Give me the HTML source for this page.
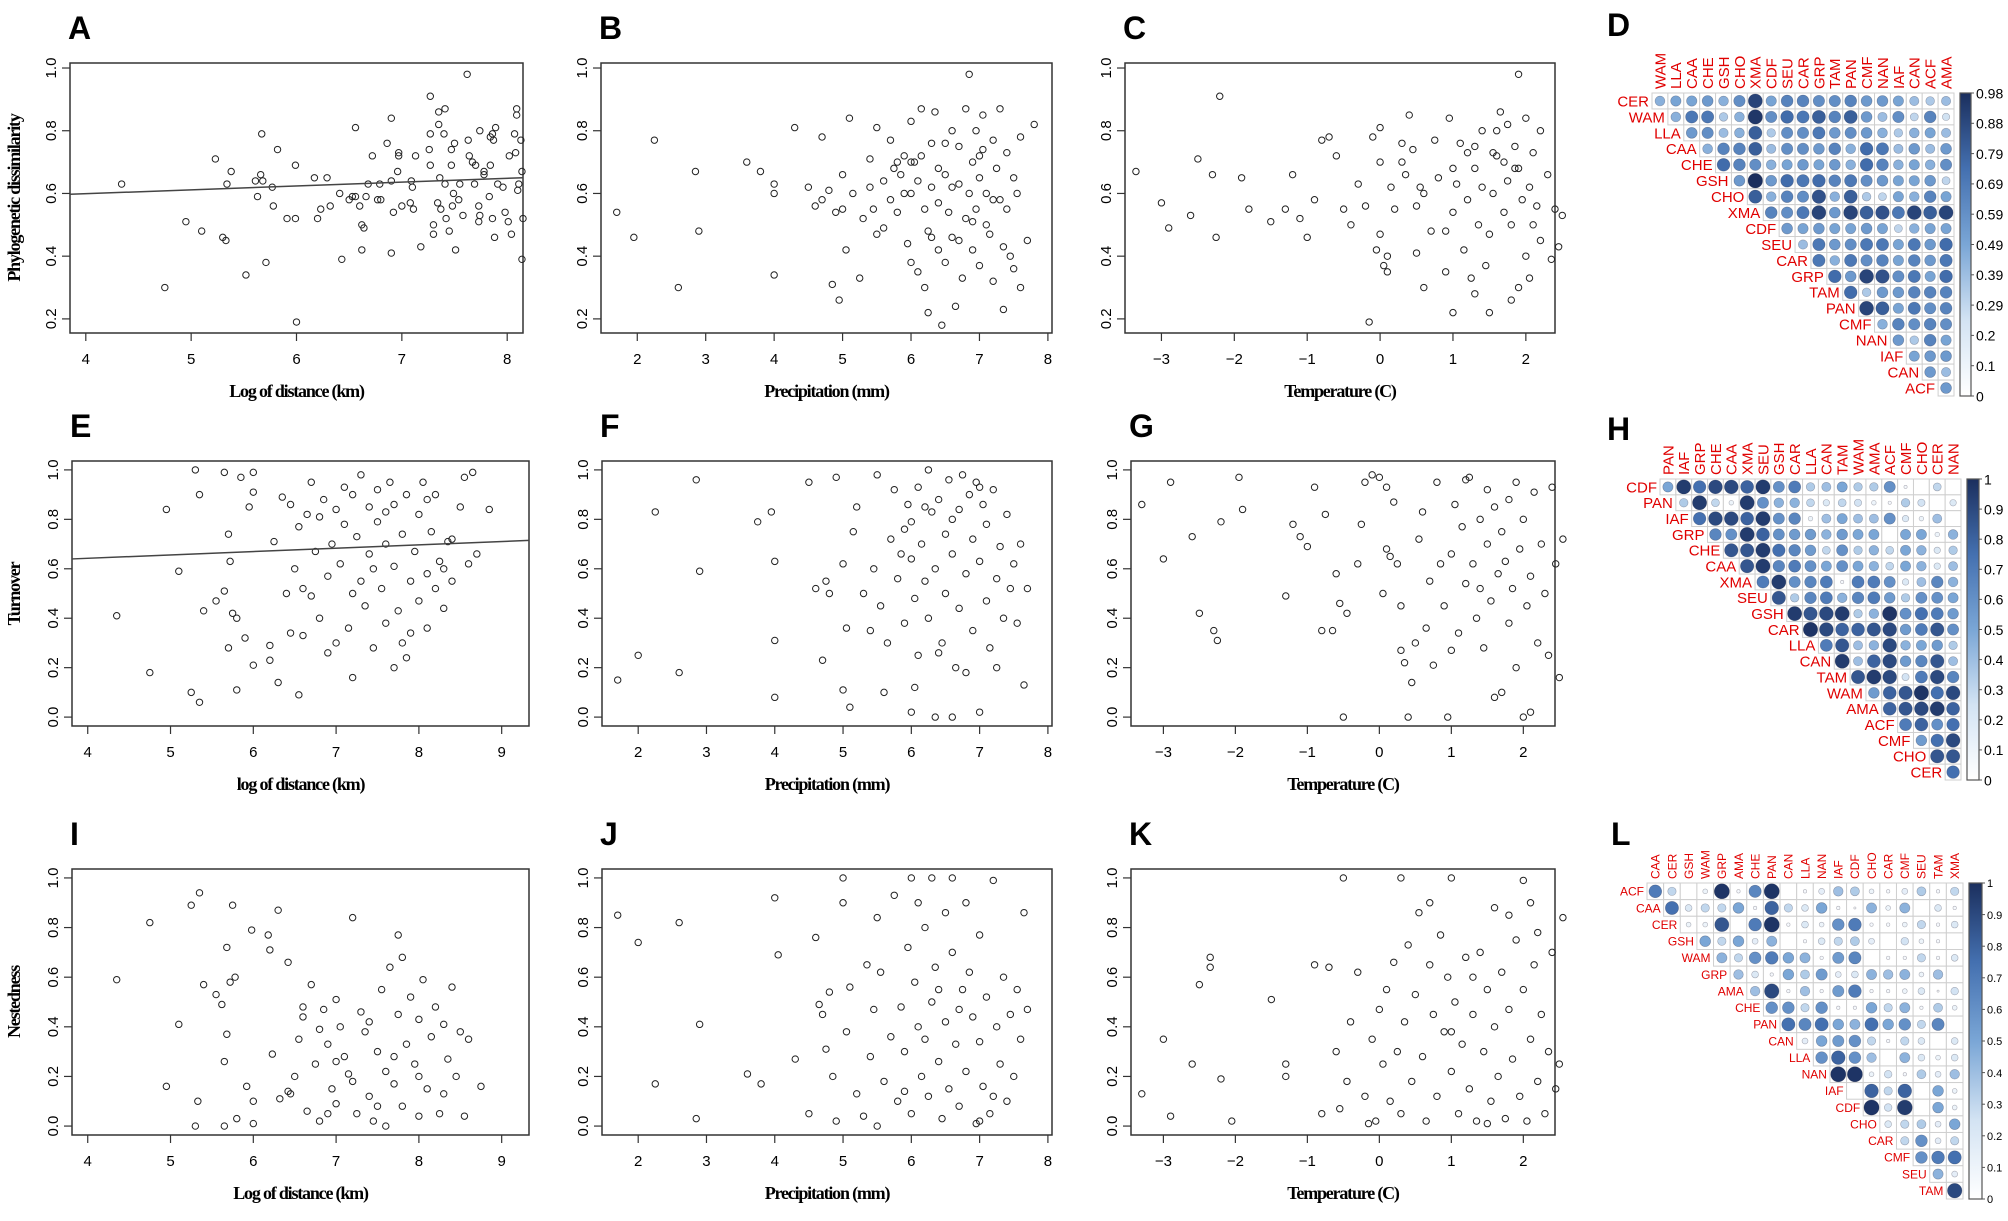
<!DOCTYPE html>
<html><head><meta charset="utf-8"><style>
html,body{margin:0;padding:0;background:#fff;}
svg{display:block;}
</style></head><body>
<svg id="fig" xmlns="http://www.w3.org/2000/svg" width="2008" height="1221" viewBox="0 0 2008 1221">
<defs>
<linearGradient id="cbg" x1="0" y1="1" x2="0" y2="0">
<stop offset="0" stop-color="#ffffff"/><stop offset="0.25" stop-color="#d3e3f3"/><stop offset="0.5" stop-color="#7aa6d6"/><stop offset="0.75" stop-color="#4470b0"/><stop offset="1" stop-color="#1b2f5e"/>
</linearGradient>
</defs>
</svg>
<script>
// ---------- scatter data ----------
const ptsA=[[4.34,.63],[4.75,.30],[4.95,.51],[5.1,.48],[5.23,.71],[5.3,.46],[5.33,.45],[5.34,.63],[5.38,.67],[5.52,.34],[5.61,.64],[5.63,.59],[5.66,.66],[5.67,.79],[5.68,.64],[5.71,.38],[5.77,.62],[5.78,.56],[5.82,.74],[5.91,.52],[5.99,.69],[5.99,.52],[6.0,.19],[6.17,.65],[6.2,.52],[6.23,.55],[6.29,.65],[6.32,.56],[6.41,.60],[6.43,.39],[6.5,.58],[6.53,.59],[6.56,.81],[6.56,.59],[6.6,.56],[6.62,.50],[6.62,.42],[6.64,.49],[6.66,.59],[6.68,.63],[6.72,.72],[6.77,.58],[6.79,.63],[6.8,.58],[6.86,.76],[6.9,.41],[6.9,.84],[6.9,.64],[6.92,.54],[6.96,.67],[6.97,.73],[6.97,.72],[7.0,.56],[7.08,.57],[7.09,.64],[7.1,.62],[7.11,.55],[7.13,.72],[7.18,.43],[7.26,.74],[7.27,.91],[7.27,.69],[7.27,.79],[7.3,.50],[7.3,.47],[7.34,.57],[7.35,.86],[7.35,.82],[7.36,.65],[7.37,.55],[7.4,.79],[7.41,.87],[7.41,.63],[7.42,.52],[7.45,.48],[7.47,.74],[7.47,.69],[7.48,.56],[7.49,.60],[7.5,.76],[7.51,.42],[7.54,.58],[7.55,.63],[7.58,.53],[7.63,.77],[7.62,.98],[7.64,.72],[7.67,.70],[7.7,.69],[7.69,.63],[7.73,.56],[7.73,.51],[7.74,.53],[7.74,.80],[7.78,.66],[7.78,.67],[7.83,.59],[7.84,.69],[7.84,.78],[7.86,.52],[7.86,.79],[7.87,.77],[7.88,.46],[7.89,.81],[7.91,.63],[7.96,.62],[7.98,.54],[8.01,.51],[8.02,.72],[8.04,.47],[8.07,.79],[8.08,.73],[8.09,.87],[8.09,.85],[8.1,.61],[8.11,.63],[8.13,.77],[8.14,.39],[8.14,.67],[8.15,.52]];
const lineA=[0.55,0.0123];
const ptsB=[[1.7,.54],[1.95,.46],[2.25,.77],[2.6,.30],[2.85,.67],[2.9,.48],[3.6,.70],[3.8,.67],[4.0,.63],[4.0,.60],[4.0,.34],[4.3,.81],[4.5,.62],[4.6,.56],[4.7,.58],[4.7,.78],[4.8,.61],[4.85,.31],[4.9,.54],[4.95,.26],[5.0,.66],[5.0,.55],[5.05,.42],[5.1,.84],[5.15,.60],[5.3,.52],[5.4,.71],[5.4,.62],[5.45,.55],[5.5,.81],[5.5,.47],[5.6,.64],[5.6,.49],[5.7,.77],[5.7,.58],[5.75,.68],[5.8,.70],[5.8,.54],[5.85,.66],[5.9,.72],[5.9,.60],[5.95,.44],[6.0,.83],[6.0,.60],[6.0,.38],[6.05,.70],[6.1,.35],[6.1,.64],[6.15,.72],[6.15,.87],[6.2,.55],[6.2,.30],[6.25,.48],[6.25,.22],[6.3,.62],[6.3,.76],[6.35,.86],[6.4,.42],[6.4,.57],[6.45,.18],[6.5,.76],[6.5,.66],[6.5,.38],[6.55,.54],[6.6,.80],[6.6,.46],[6.65,.24],[6.7,.63],[6.7,.75],[6.75,.33],[6.8,.87],[6.8,.52],[6.85,.98],[6.85,.60],[6.9,.70],[6.9,.42],[6.95,.80],[6.95,.55],[7.0,.65],[7.0,.37],[7.05,.74],[7.05,.85],[7.1,.50],[7.1,.60],[7.15,.47],[7.2,.77],[7.2,.32],[7.25,.68],[7.3,.58],[7.3,.87],[7.35,.23],[7.35,.43],[7.4,.73],[7.4,.55],[7.45,.40],[7.5,.65],[7.5,.36],[7.55,.60],[7.6,.78],[7.6,.30],[7.7,.45],[7.8,.82],[5.25,.33],[6.0,.70],[6.4,.68],[6.6,.62],[7.0,.72],[6.3,.46],[6.9,.51],[7.2,.58],[6.7,.45]];
const ptsC=[[-3.35,.67],[-3.0,.57],[-2.9,.49],[-2.6,.53],[-2.5,.71],[-2.3,.66],[-2.2,.91],[-2.25,.46],[-1.9,.65],[-1.8,.55],[-1.5,.51],[-1.3,.55],[-1.2,.66],[-1.1,.52],[-1.0,.46],[-0.9,.58],[-0.8,.77],[-0.7,.78],[-0.6,.72],[-0.5,.55],[-0.4,.50],[-0.3,.63],[-0.2,.56],[-0.15,.19],[-0.1,.78],[0.0,.81],[0.0,.70],[-0.05,.42],[0.0,.47],[0.05,.37],[0.1,.40],[0.1,.35],[0.15,.62],[0.2,.55],[0.3,.70],[0.3,.76],[0.35,.66],[0.4,.85],[0.45,.74],[0.5,.41],[0.5,.56],[0.6,.60],[0.6,.30],[0.7,.48],[0.75,.77],[0.8,.65],[0.9,.35],[0.95,.84],[1.0,.54],[1.0,.22],[1.05,.63],[1.1,.76],[1.15,.42],[1.2,.73],[1.2,.58],[1.25,.33],[1.3,.28],[1.3,.68],[1.35,.50],[1.4,.80],[1.4,.62],[1.45,.37],[1.5,.22],[1.5,.47],[1.55,.60],[1.6,.72],[1.6,.80],[1.65,.86],[1.7,.54],[1.7,.70],[1.75,.64],[1.8,.26],[1.8,.50],[1.85,.68],[1.85,.75],[1.9,.98],[1.9,.30],[1.95,.58],[2.0,.84],[2.0,.40],[2.05,.62],[2.1,.73],[2.1,.50],[2.15,.56],[2.2,.45],[2.2,.80],[2.3,.66],[2.35,.39],[2.4,.55],[2.45,.43],[2.5,.53],[1.75,.82],[1.55,.73],[1.0,.68],[0.55,.62],[1.3,.75],[1.9,.68],[2.05,.33],[0.9,.48]];
const ptsE=[[4.35,.41],[4.75,.18],[4.95,.84],[5.1,.59],[5.25,.1],[5.3,1.0],[5.35,.9],[5.35,.06],[5.4,.43],[5.55,.47],[5.65,.51],[5.65,.99],[5.7,.74],[5.7,.28],[5.72,.63],[5.75,.42],[5.8,.11],[5.8,.40],[5.85,.97],[5.95,.85],[6.0,.91],[6.0,.99],[6.0,.21],[6.2,.23],[6.2,.29],[6.25,.71],[6.3,.14],[6.35,.89],[6.45,.86],[6.45,.34],[6.5,.6],[6.55,.77],[6.6,.52],[6.65,.82],[6.7,.49],[6.7,.95],[6.75,.67],[6.8,.4],[6.85,.88],[6.9,.57],[6.95,.7],[7.0,.84],[7.0,.3],[7.05,.62],[7.1,.78],[7.15,.36],[7.2,.9],[7.2,.16],[7.25,.73],[7.3,.55],[7.3,.98],[7.35,.45],[7.4,.85],[7.4,.66],[7.45,.28],[7.5,.92],[7.5,.79],[7.55,.52],[7.6,.7],[7.6,.38],[7.65,.95],[7.7,.61],[7.7,.86],[7.75,.43],[7.8,.3],[7.8,.74],[7.85,.24],[7.85,.9],[7.9,.55],[7.95,.67],[8.0,.82],[8.0,.47],[8.05,.95],[8.1,.58],[8.1,.36],[8.15,.75],[8.2,.52],[8.2,.9],[8.25,.63],[8.3,.44],[8.35,.71],[8.4,.55],[8.5,.85],[8.55,.97],[8.6,.62],[8.65,.99],[8.7,.66],[8.85,.84],[6.6,.33],[6.9,.26],[7.1,.93],[7.45,.6],[7.6,.83],[7.9,.34],[8.3,.6],[7.2,.5],[6.8,.81],[7.7,.2],[8.4,.72],[8.1,.88],[6.4,.5],[6.55,.09],[5.9,.32]];
const lineE=[0.588,0.0136];
const ptsF=[[1.7,.15],[2.0,.25],[2.25,.83],[2.6,.18],[2.85,.96],[2.9,.59],[3.75,.79],[3.95,.83],[4.0,.63],[4.0,.31],[4.0,.08],[4.5,.95],[4.6,.52],[4.7,.23],[4.75,.55],[4.8,.5],[4.9,.97],[5.0,.11],[5.0,.62],[5.05,.36],[5.1,.04],[5.15,.75],[5.2,.85],[5.3,.5],[5.4,.35],[5.45,.6],[5.5,.98],[5.55,.45],[5.6,.1],[5.65,.3],[5.7,.72],[5.75,.92],[5.8,.56],[5.85,.66],[5.9,.38],[5.95,.86],[6.0,.02],[6.0,.64],[6.0,.79],[6.05,.48],[6.1,.93],[6.1,.25],[6.15,.7],[6.2,.55],[6.25,1.0],[6.25,.4],[6.3,.83],[6.35,.0],[6.35,.6],[6.4,.88],[6.45,.3],[6.5,.74],[6.5,.5],[6.55,.96],[6.6,.0],[6.6,.66],[6.65,.2],[6.7,.84],[6.7,.44],[6.75,.98],[6.8,.58],[6.85,.9],[6.9,.72],[6.9,.35],[6.95,.95],[7.0,.63],[7.0,.02],[7.05,.86],[7.1,.47],[7.1,.78],[7.15,.28],[7.2,.92],[7.25,.56],[7.3,.69],[7.35,.4],[7.4,.82],[7.45,.52],[7.5,.62],[7.55,.38],[7.6,.7],[7.65,.13],[7.7,.52],[6.05,.12],[6.4,.26],[6.8,.18],[7.0,.93],[6.2,.85],[5.9,.76],[6.6,.8],[7.25,.2]];
const ptsG=[[-3.3,.86],[-3.0,.64],[-2.9,.95],[-2.6,.73],[-2.5,.42],[-2.3,.35],[-2.25,.31],[-2.2,.79],[-1.95,.97],[-1.9,.84],[-1.3,.49],[-1.2,.78],[-1.1,.73],[-1.0,.69],[-0.9,.93],[-0.8,.35],[-0.75,.82],[-0.65,.35],[-0.6,.58],[-0.55,.46],[-0.5,.0],[-0.45,.42],[-0.3,.62],[-0.25,.78],[-0.2,.95],[-0.1,.98],[0.0,.97],[0.05,.5],[0.1,.93],[0.1,.68],[0.2,.87],[0.25,.62],[0.3,.45],[0.3,.27],[0.35,.22],[0.4,.0],[0.45,.14],[0.5,.3],[0.55,.72],[0.6,.83],[0.65,.36],[0.7,.55],[0.75,.21],[0.8,.95],[0.85,.62],[0.9,.45],[0.95,.0],[1.0,.66],[1.05,.86],[1.1,.34],[1.15,.77],[1.2,.54],[1.25,.97],[1.3,.62],[1.35,.4],[1.4,.8],[1.45,.28],[1.5,.7],[1.5,.92],[1.55,.47],[1.6,.85],[1.65,.58],[1.7,.1],[1.7,.75],[1.75,.63],[1.8,.88],[1.8,.38],[1.85,.52],[1.9,.95],[1.9,.2],[1.95,.68],[2.0,.0],[2.0,.8],[2.05,.45],[2.1,.57],[2.15,.91],[2.2,.3],[2.25,.7],[2.3,.5],[2.35,.25],[2.4,.93],[2.45,.62],[2.5,.16],[2.55,.72],[1.6,.08],[1.2,.96],[0.15,.65],[2.1,.02],[1.4,.52],[1.0,.27]];
const ptsI=[[4.35,.59],[4.75,.82],[4.95,.16],[5.1,.41],[5.25,.89],[5.3,.0],[5.33,.1],[5.35,.94],[5.4,.57],[5.55,.53],[5.62,.49],[5.65,.0],[5.65,.26],[5.68,.72],[5.68,.37],[5.72,.58],[5.75,.89],[5.78,.6],[5.8,.03],[5.92,.16],[5.98,.79],[6.0,.1],[6.0,.01],[6.18,.77],[6.2,.71],[6.23,.29],[6.3,.87],[6.32,.11],[6.42,.14],[6.42,.66],[6.5,.2],[6.55,.35],[6.6,.44],[6.6,.48],[6.65,.06],[6.7,.57],[6.75,.25],[6.8,.02],[6.85,.47],[6.9,.33],[6.95,.15],[7.0,.51],[7.0,.09],[7.05,.4],[7.1,.28],[7.15,.21],[7.2,.84],[7.25,.05],[7.3,.46],[7.35,.38],[7.4,.12],[7.45,.02],[7.5,.3],[7.55,.55],[7.6,.22],[7.6,.0],[7.65,.64],[7.7,.17],[7.75,.77],[7.75,.45],[7.8,.68],[7.8,.08],[7.85,.33],[7.9,.52],[7.95,.25],[8.0,.04],[8.0,.43],[8.05,.59],[8.1,.15],[8.15,.36],[8.2,.48],[8.25,.05],[8.3,.41],[8.35,.27],[8.4,.56],[8.45,.2],[8.5,.38],[8.55,.04],[8.6,.35],[8.75,.16],[6.45,.13],[7.0,.26],[7.4,.42],[7.7,.28],[8.0,.2],[8.3,.13],[6.8,.39],[7.2,.18],[6.9,.05],[7.5,.08]];
const ptsJ=[[1.7,.85],[2.0,.74],[2.25,.17],[2.6,.82],[2.9,.41],[2.85,.03],[3.6,.21],[3.8,.17],[4.0,.92],[4.05,.69],[4.3,.27],[4.5,.05],[4.6,.76],[4.65,.49],[4.7,.45],[4.75,.31],[4.8,.54],[4.85,.2],[4.9,.02],[5.0,1.0],[5.0,.9],[5.05,.38],[5.1,.56],[5.2,.13],[5.3,.04],[5.35,.65],[5.4,.28],[5.45,.47],[5.5,.0],[5.5,.84],[5.55,.62],[5.6,.18],[5.7,.36],[5.75,.93],[5.8,.1],[5.85,.48],[5.9,.3],[5.95,.72],[6.0,1.0],[6.0,.05],[6.05,.58],[6.1,.4],[6.15,.2],[6.2,.8],[6.25,.12],[6.3,1.0],[6.3,.5],[6.35,.64],[6.4,.26],[6.45,.03],[6.5,.86],[6.5,.42],[6.55,.15],[6.6,.7],[6.6,1.0],[6.65,.33],[6.7,.08],[6.75,.55],[6.8,.22],[6.85,.62],[6.9,.44],[6.95,.01],[7.0,.34],[7.0,.77],[7.05,.16],[7.1,.52],[7.15,.05],[7.2,.99],[7.25,.4],[7.3,.25],[7.35,.6],[7.4,.1],[7.45,.45],[7.5,.2],[7.55,.55],[7.6,.35],[7.65,.86],[7.7,.47],[6.1,.9],[6.4,.55],[6.8,.9],[7.0,.02],[6.2,.35],[5.9,.14],[6.7,.47],[7.2,.12]];
const ptsK=[[-3.3,.13],[-3.0,.35],[-2.9,.04],[-2.6,.25],[-2.5,.57],[-2.35,.68],[-2.35,.64],[-2.2,.19],[-2.05,.02],[-1.5,.51],[-1.3,.25],[-1.3,.2],[-0.9,.65],[-0.8,.05],[-0.7,.64],[-0.6,.3],[-0.55,.07],[-0.5,1.0],[-0.45,.18],[-0.4,.42],[-0.3,.62],[-0.2,.12],[-0.15,.01],[-0.1,.35],[-0.05,.02],[0.0,.47],[0.05,.25],[0.1,.55],[0.15,.1],[0.2,.66],[0.25,.3],[0.3,1.0],[0.3,.05],[0.35,.42],[0.4,.73],[0.45,.18],[0.5,.53],[0.55,.86],[0.6,.28],[0.65,.02],[0.7,.65],[0.75,.45],[0.8,.12],[0.85,.77],[0.9,.38],[0.95,.6],[1.0,1.0],[1.0,.22],[1.05,.5],[1.1,.05],[1.15,.33],[1.2,.68],[1.25,.15],[1.3,.45],[1.35,.02],[1.4,.7],[1.45,.3],[1.5,.55],[1.55,.1],[1.6,.88],[1.6,.4],[1.65,.2],[1.7,.62],[1.75,.03],[1.8,.47],[1.85,.27],[1.9,.75],[1.95,.12],[2.0,.99],[2.0,.55],[2.05,.02],[2.1,.35],[2.1,.9],[2.15,.65],[2.2,.18],[2.25,.45],[2.3,.05],[2.35,.3],[2.4,.7],[2.45,.15],[2.5,.25],[2.55,.84],[1.8,.85],[1.3,.6],[0.7,.9],[2.2,.78],[1.0,.38],[1.5,.01]];
const ticksDist1=[4,5,6,7,8];
const ticksDist2=[4,5,6,7,8,9];
const ticksPrec=[2,3,4,5,6,7,8];
const ticksTemp=[-3,-2,-1,0,1,2];
const ticksY1=[0.2,0.4,0.6,0.8,1.0];
const ticksY2=[0.0,0.2,0.4,0.6,0.8,1.0];

// ---------- correlation matrices ----------
const colsD=["WAM","LLA","CAA","CHE","GSH","CHO","XMA","CDF","SEU","CAR","GRP","TAM","PAN","CMF","NAN","IAF","CAN","ACF","AMA"];
const rowsD=["CER","WAM","LLA","CAA","CHE","GSH","CHO","XMA","CDF","SEU","CAR","GRP","TAM","PAN","CMF","NAN","IAF","CAN","ACF"];
const valsD=[
[.45,.5,.5,.55,.45,.6,.9,.5,.65,.65,.6,.6,.65,.55,.55,.5,.4,.35,.4],
[.45,.7,.7,.35,.45,.95,.6,.75,.7,.8,.65,.8,.55,.4,.6,.3,.65,.25],
[.55,.6,.4,.45,.8,.35,.6,.6,.7,.55,.6,.55,.45,.35,.45,.5,.4],
[.45,.65,.65,.8,.4,.6,.6,.55,.65,.45,.75,.7,.4,.55,.4,.55],
[.75,.65,.6,.45,.5,.55,.5,.55,.45,.75,.65,.45,.5,.45,.6],
[.55,.98,.55,.75,.7,.75,.65,.7,.6,.55,.5,.5,.55,.3],
[.8,.45,.65,.6,.85,.45,.8,.35,.3,.5,.45,.65,.5],
[.65,.6,.7,.9,.55,.9,.8,.85,.7,.9,.8,.9],
[.55,.5,.55,.5,.5,.55,.5,.3,.45,.5,.5],
[.4,.7,.55,.6,.7,.7,.5,.7,.55,.75],
[.7,.45,.7,.6,.65,.5,.65,.55,.7],
[.75,.55,.9,.85,.6,.7,.5,.75],
[.75,.35,.55,.55,.65,.65,.65],
[.9,.8,.5,.7,.6,.65],
[.45,.65,.6,.65,.6],
[.55,.35,.65,.5],
[.5,.55,.55],
[.55,.4],
[.55]];
const cbTicksD=["0","0.1","0.2","0.29","0.39","0.49","0.59","0.69","0.79","0.88","0.98"];
const colsH=["PAN","IAF","GRP","CHE","CAA","XMA","SEU","GSH","CAR","LLA","CAN","TAM","WAM","AMA","ACF","CMF","CHO","CER","NAN"];
const rowsH=["CDF","PAN","IAF","GRP","CHE","CAA","XMA","SEU","GSH","CAR","LLA","CAN","TAM","WAM","AMA","ACF","CMF","CHO","CER"];
const valsH=[
[.5,.95,.75,.9,.9,.8,.95,.6,.7,.35,.4,.5,.35,.35,.6,.05,0,.3,0],
[.35,.95,.3,.1,.95,.6,.45,.45,.3,.2,.3,.25,.1,.05,.35,.25,0,.2],
[.75,.9,.9,.8,.95,.6,.65,.1,.4,.5,.4,.4,.6,.2,.1,.4,0],
[.65,.6,.95,.8,.6,.55,.55,.45,.55,.5,.5,0,.5,.5,.1,.45],
[.85,.85,.95,.75,.65,.55,.3,.6,.35,.45,.3,.5,.45,.2,.35],
[.85,.95,.65,.7,.6,.5,.6,.5,.45,.3,.5,.45,.2,.4],
[.7,.95,.6,.65,.7,.05,.7,.7,.6,.2,.4,.65,.45],
[.85,.35,.65,.7,.45,.65,.7,.55,.35,.6,.6,.5],
[.95,.85,.9,.95,.35,.45,.98,.6,.75,.7,.55],
[.98,.9,.8,.8,.85,.9,.55,.7,.85,.6],
[.7,.85,.4,.45,.9,.45,.5,.55,.35],
[.95,.4,.8,.9,.55,.65,.85,.4],
[.85,.95,.9,.25,.7,.9,.65],
[.55,.8,.85,.98,.75,.9],
[.8,.85,.9,.95,.8],
[.7,.8,.6,.75],
[.55,.75,.9],
[.85,.85],
[.75]];
const cbTicksH=["0","0.1","0.2","0.3","0.4","0.5","0.6","0.7","0.8","0.9","1"];
const colsL=["CAA","CER","GSH","WAM","GRP","AMA","CHE","PAN","CAN","LLA","NAN","IAF","CDF","CHO","CAR","CMF","SEU","TAM","XMA"];
const rowsL=["ACF","CAA","CER","GSH","WAM","GRP","AMA","CHE","PAN","CAN","LLA","NAN","IAF","CDF","CHO","CAR","CMF","SEU","TAM"];
const valsL=[
[.7,.3,0,.1,.98,.05,.65,.98,0,.05,.15,.4,.35,.1,.05,.15,.35,.05,.3],
[.75,.2,.3,.3,.5,.05,.8,.3,.2,.5,.05,.02,.45,.1,.45,0,.2,.05],
[.1,.1,.85,0,.7,.98,.05,.2,.1,.6,.7,.05,.05,.1,.3,.05,.2],
[.5,.3,.5,.15,.45,0,.05,.2,.3,.35,.15,0,.25,.1,.05,0],
[.45,.3,.6,.7,.5,.45,.05,.55,.65,0,.05,.05,.3,.05,.2],
[.4,.2,.05,.5,.35,.55,.15,.2,.45,.4,.45,.1,.4,0],
[.4,.9,.05,.4,.05,.55,.7,.05,.05,.1,.2,.02,.25],
[.6,.6,.3,.6,.05,.05,.5,.3,.45,.05,.35,.1],
[.75,.65,.75,.5,.45,.75,.5,.6,.3,.65,0],
[.15,.5,.55,.6,.3,.05,.3,.2,0,.2],
[.6,.8,.6,.4,0,.45,.2,.1,.2],
[.98,.98,.1,.25,.05,.35,.15,.4],
[0,.8,.3,.8,0,.5,.1],
[.98,.25,.95,0,.5,.1],
[.2,.3,.35,.15,.5],
[.3,.6,.15,.3],
[.6,.7,.75],
[.45,.15],
[.9]];
const cbTicksL=["0","0.1","0.2","0.3","0.4","0.5","0.6","0.7","0.8","0.9","1"];

// ---------- rendering ----------
const NS="http://www.w3.org/2000/svg";
const svg=document.getElementById('fig');
function mk(tag,attrs,parent){const e=document.createElementNS(NS,tag);for(const k in attrs)e.setAttribute(k,attrs[k]);(parent||svg).appendChild(e);return e;}
function fmt(v){return v.toFixed(1);}

function scatter(letter,box,xr,yr,xt,yt,pts,line,xlab,ylab,ytitleY){
  const [L,T,R,B]=box;
  const g=mk('g',{});
  
  
  const sx=v=>L+(v-xr[0])/(xr[1]-xr[0])*(R-L);
  const sy=v=>B-(v-yr[0])/(yr[1]-yr[0])*(B-T);
  const lab=mk('text',{x:L-2,y:T-24,'font-family':'Liberation Sans, sans-serif','font-size':32,'font-weight':'bold'},g);
  lab.textContent=letter;
  
  
  const fr=mk('rect',{x:L,y:T,width:R-L,height:B-T,fill:'none',stroke:'#333','stroke-width':1.5},g);
  
  
  const pts_g=mk('g',{},g);
  
  
  pts.forEach(p=>{
    const c=mk('circle',{cx:sx(p[0]),cy:sy(p[1]),r:3.2,fill:'none',stroke:'#222','stroke-width':1},pts_g);
    
    
  });
  if(line){
    const ln=mk('line',{x1:L,y1:sy(line[0]+line[1]*xr[0]),x2:R,y2:sy(line[0]+line[1]*xr[1]),stroke:'#444','stroke-width':1.5},g);
    
    
  }
  xt.forEach(v=>{
    const x=sx(v);
    mk('line',{x1:x,y1:B,x2:x,y2:B+8,stroke:'#333','stroke-width':1.2},g);
    const t=mk('text',{x:x,y:B+31,'text-anchor':'middle','font-family':'Liberation Sans, sans-serif','font-size':15},g);
    t.textContent=(v<0?'\u2212'+Math.abs(v):v);
    
    
  });
  yt.forEach(v=>{
    const y=sy(v);
    mk('line',{x1:L-8,y1:y,x2:L,y2:y,stroke:'#333','stroke-width':1.2},g);
    const t=mk('text',{x:0,y:0,'text-anchor':'middle','font-family':'Liberation Sans, sans-serif','font-size':15,transform:`translate(${L-14},${y}) rotate(-90)`},g);
    t.textContent=fmt(v);
    
    
  });
  const xl=mk('text',{x:(L+R)/2,y:B+64,'text-anchor':'middle','font-family':'Liberation Serif, serif','font-size':18,'font-weight':'bold','letter-spacing':'-1.2'},g);
  xl.textContent=xlab;
  
  
  if(ylab){
    const yl=mk('text',{x:0,y:0,'text-anchor':'middle','font-family':'Liberation Serif, serif','font-size':18,'font-weight':'bold','letter-spacing':'-1.2',transform:`translate(20,${ytitleY}) rotate(-90)`},g);
    yl.textContent=ylab;
    
    
  }
}

function colorFor(t){
  const stops=[[0,[255,255,255]],[.25,[211,227,243]],[.5,[122,166,214]],[.75,[68,112,176]],[1,[27,47,94]]];
  t=Math.max(0,Math.min(1,t));
  for(let i=1;i<stops.length;i++){if(t<=stops[i][0]){const a=stops[i-1],b=stops[i];const f=(t-a[0])/(b[0]-a[0]);const c=a[1].map((v,k)=>Math.round(v+(b[1][k]-v)*f));return `rgb(${c[0]},${c[1]},${c[2]})`;}}
  return 'rgb(27,47,94)';
}

function corrplot(letter,x0,y0,x1,y1,cols,rows,vals,vmax,cbx,cbw,cbTicks,fs,lab){
  const g=mk('g',{});
  
  
  const n=cols.length, cw=(x1-x0)/n, ch=(y1-y0)/rows.length;
  const l=mk('text',{x:lab[0],y:lab[1],'font-family':'Liberation Sans, sans-serif','font-size':32,'font-weight':'bold'},g);
  l.textContent=letter;
  
  
  cols.forEach((c,j)=>{
    const t=mk('text',{x:0,y:0,'font-family':'Liberation Sans, sans-serif','font-size':fs,fill:'#e00000',transform:`translate(${x0+(j+0.5)*cw+fs*0.36},${y0-4}) rotate(-90)`},g);
    t.textContent=c;
    
    
  });
  rows.forEach((r,i)=>{
    const t=mk('text',{x:x0+i*cw-3,y:y0+(i+0.5)*ch+fs*0.36,'text-anchor':'end','font-family':'Liberation Sans, sans-serif','font-size':fs,fill:'#e00000'},g);
    t.textContent=r;
    
    
    vals[i].forEach((v,k)=>{
      const j=i+k;
      const cx=x0+j*cw, cy=y0+i*ch;
      const cell=mk('rect',{x:cx,y:cy,width:cw,height:ch,fill:'#fff',stroke:'#cfcfcf','stroke-width':1},g);
      
      
      const t2=v/vmax;
      const c=mk('circle',{cx:cx+cw/2,cy:cy+ch/2,r:Math.max(0,0.46*cw*Math.sqrt(t2)),fill:colorFor(t2),stroke:'rgba(40,40,60,0.35)','stroke-width':0.6},g);
      
      
    });
  });
  const cb=mk('rect',{x:cbx,y:y0,width:cbw,height:y1-y0,fill:'url(#cbg)',stroke:'#555','stroke-width':1.2},g);
  
  
  cbTicks.forEach((s,k)=>{
    const y=y1-k*(y1-y0)/(cbTicks.length-1);
    mk('line',{x1:cbx+cbw,y1:y,x2:cbx+cbw+3,y2:y,stroke:'#555'},g);
    const t=mk('text',{x:cbx+cbw+5,y:y+fs*0.35,'font-family':'Liberation Sans, sans-serif','font-size':fs-1},g);
    t.textContent=s;
    
    
  });
}

const r1=[63,333], r2=[461,726], r3=[869,1135];
const yr1=[0.155,1.016], yr2=[-0.036,1.036];
scatter('A',[70,r1[0],523,r1[1]],[3.85,8.15],yr1,ticksDist1,ticksY1,ptsA,lineA,'Log of distance (km)','Phylogenetic dissimilarity',198);
scatter('B',[601,r1[0],1052,r1[1]],[1.47,8.06],yr1,ticksPrec,ticksY1,ptsB,null,'Precipitation (mm)',null);
scatter('C',[1125,r1[0],1555,r1[1]],[-3.5,2.4],yr1,ticksTemp,ticksY1,ptsC,null,'Temperature (C)',null);
scatter('E',[72,r2[0],529,r2[1]],[3.81,9.33],yr2,ticksDist2,ticksY2,ptsE,lineE,'log of distance (km)','Turnover',594);
scatter('F',[602,r2[0],1052,r2[1]],[1.47,8.06],yr2,ticksPrec,ticksY2,ptsF,null,'Precipitation (mm)',null);
scatter('G',[1131,r2[0],1555,r2[1]],[-3.45,2.44],yr2,ticksTemp,ticksY2,ptsG,null,'Temperature (C)',null);
scatter('I',[72,r3[0],529,r3[1]],[3.81,9.33],yr2,ticksDist2,ticksY2,ptsI,null,'Log of distance (km)','Nestedness',1002);
scatter('J',[602,r3[0],1052,r3[1]],[1.47,8.06],yr2,ticksPrec,ticksY2,ptsJ,null,'Precipitation (mm)',null);
scatter('K',[1131,r3[0],1555,r3[1]],[-3.45,2.44],yr2,ticksTemp,ticksY2,ptsK,null,'Temperature (C)',null);

corrplot('D',1652,93,1954,396,colsD,rowsD,valsD,0.98,1960,11,cbTicksD,15,[1607,36]);
corrplot('H',1660,479,1961,780,colsH,rowsH,valsH,1,1967,12,cbTicksH,15,[1607,440]);
corrplot('L',1647,883,1963,1199,colsL,rowsL,valsL,1,1969,13,cbTicksL,12,[1611,845]);
</script>
</body></html>
